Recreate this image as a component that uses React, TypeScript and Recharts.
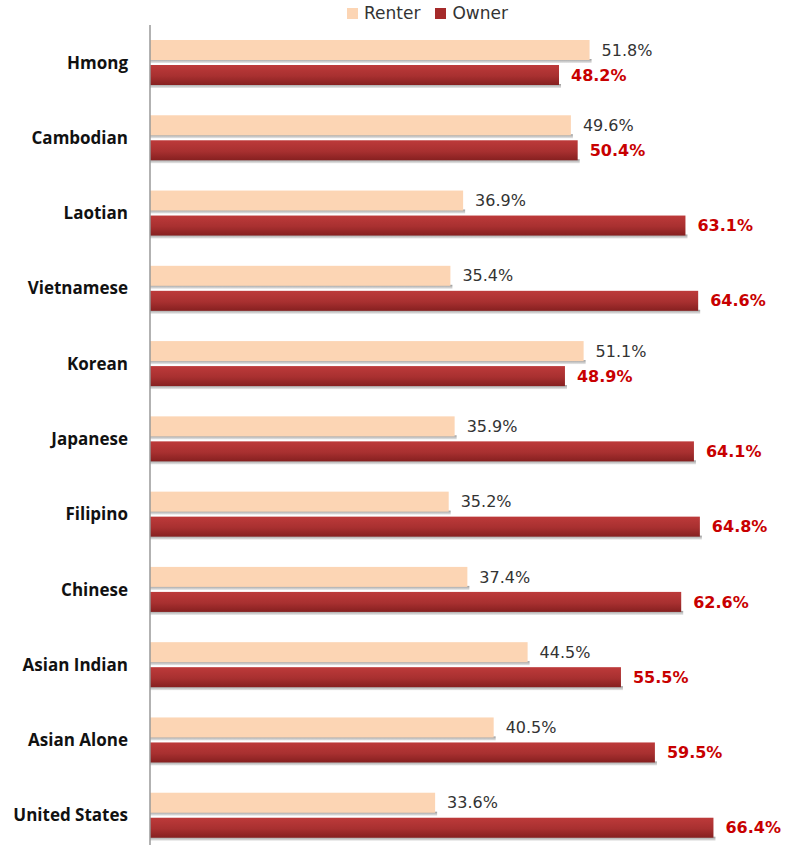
import { BarChart, Bar, XAxis, YAxis, LabelList } from 'recharts';

const groups = ['Hmong', 'Cambodian', 'Laotian', 'Vietnamese', 'Korean', 'Japanese', 'Filipino', 'Chinese', 'Asian Indian', 'Asian Alone', 'United States'];
const renter = [51.8, 49.6, 36.9, 35.4, 51.1, 35.9, 35.2, 37.4, 44.5, 40.5, 33.6];
const owner = [48.2, 50.4, 63.1, 64.6, 48.9, 64.1, 64.8, 62.6, 55.5, 59.5, 66.4];

const data = groups.map((g, i) => ({ name: g, renter: renter[i], owner: owner[i] }));

const fmt = (v: any) => `${Number(v).toFixed(1)}%`;

const ShadowBar = (props: any) => {
  const { x, y, width, height, fill } = props;
  if (!width || width <= 0) return null;
  return (
    <g>
      <rect x={x} y={y + height - 1} width={width + 2} height={4} fill="url(#shadow)" />
      <rect x={x} y={y} width={width} height={height} fill={fill} />
    </g>
  );
};

const LegendBox = () => (
  <div style={{ display: 'flex', alignItems: 'center', fontFamily: 'DejaVu Sans', fontSize: 17, color: '#333' }}>
    <span style={{ width: 11, height: 11, background: '#fcd5b4', display: 'inline-block', marginRight: 6 }} />
    <span style={{ marginRight: 15 }}>Renter</span>
    <span style={{ width: 11, height: 11, background: '#a52a2a', display: 'inline-block', marginRight: 6 }} />
    <span>Owner</span>
  </div>
);

const App = () => (
  <div style={{ position: 'absolute', left: 0, top: 0, width: 789, height: 845, overflow: 'hidden', background: '#fff' }}>
    <div style={{ position: 'absolute', left: 347, top: 3 }}>
      <LegendBox />
    </div>
    <BarChart
      width={789}
      height={853}
      data={data}
      layout="vertical"
      margin={{ top: 25, right: 45, left: 0, bottom: 0 }}
      barCategoryGap="20%"
      barGap={5}
    >
      <defs>
        <linearGradient id="ownerGrad" x1="0" y1="0" x2="0" y2="1">
          <stop offset="0%" stopColor="#bd3a3a" />
          <stop offset="55%" stopColor="#a83030" />
          <stop offset="100%" stopColor="#862020" />
        </linearGradient>
        <linearGradient id="shadow" x1="0" y1="0" x2="0" y2="1">
          <stop offset="0%" stopColor="#9a9a9a" />
          <stop offset="100%" stopColor="#e8e8e8" />
        </linearGradient>
      </defs>
      <XAxis type="number" domain={[0, 70]} hide />
      <YAxis
        type="category"
        dataKey="name"
        width={150}
        axisLine={{ stroke: '#999', strokeWidth: 1.5 }}
        tickLine={false}
        tickMargin={16}
        tick={{ fill: '#111', fontFamily: 'Open Sans', fontWeight: 700, fontSize: 17 }}
        interval={0}
      />
      <Bar dataKey="renter" fill="#fcd5b4" barSize={20} shape={ShadowBar} isAnimationActive={false}>
        <LabelList dataKey="renter" position="right" offset={12} formatter={fmt} fill="#333" fontFamily="DejaVu Sans" fontSize={16} />
      </Bar>
      <Bar dataKey="owner" fill="url(#ownerGrad)" barSize={20} shape={ShadowBar} isAnimationActive={false}>
        <LabelList dataKey="owner" position="right" offset={12} formatter={fmt} fill="#c80000" fontFamily="DejaVu Sans" fontWeight={700} fontSize={16} />
      </Bar>
    </BarChart>
  </div>
);

export default App;
